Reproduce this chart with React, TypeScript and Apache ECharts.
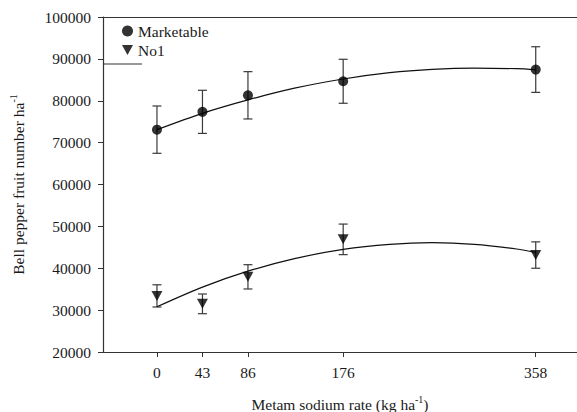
import React, { useEffect, useRef } from "react";
import * as echarts from "echarts";

const rates = [0, 43, 86, 176, 358];
const marketable = [73100, 77350, 81300, 84650, 87450];
const marketableErr = [5650, 5150, 5650, 5250, 5450];
const no1 = [33400, 31500, 37950, 46900, 43150];
const no1Err = [2650, 2350, 2900, 3650, 3150];

const fitRates = [0, 43, 86, 130, 176, 220, 260, 300, 340, 358];
const marketableFit = [73100, 77000, 80200, 83000, 85200, 86700, 87500, 87800, 87650, 87400];
const no1Fit = [30800, 35500, 39300, 42300, 44500, 45700, 46100, 45700, 44600, 43800];

const xTicks = [0, 43, 86, 176, 358];

const FONT = "Liberation Serif";
const TRI = "path://M0,0 L10,0 L5,9 Z";

function errData(ys: number[], es: number[]) {
  return rates.map((x, i) => [x, ys[i], es[i]]);
}

function renderErr(params: any, api: any) {
  const x = api.value(0);
  const y = api.value(1);
  const e = api.value(2);
  const top = api.coord([x, y + e]);
  const bot = api.coord([x, y - e]);
  const hw = 4.5;
  const style = { stroke: "#3a3a3a", lineWidth: 1.2 };
  return {
    type: "group",
    children: [
      { type: "line", shape: { x1: top[0], y1: top[1], x2: bot[0], y2: bot[1] }, style },
      { type: "line", shape: { x1: top[0] - hw, y1: top[1], x2: top[0] + hw, y2: top[1] }, style },
      { type: "line", shape: { x1: bot[0] - hw, y1: bot[1], x2: bot[0] + hw, y2: bot[1] }, style },
    ],
  };
}

export default function App() {
  const ref = useRef<HTMLDivElement>(null);
  useEffect(() => {
    if (!ref.current) return;
    const chart = echarts.init(ref.current, null, { renderer: "svg" });
    const axisLine = { show: true, onZero: false, lineStyle: { color: "#333", width: 1.2 } };
    const label = { color: "#1a1a1a", fontFamily: FONT, fontSize: 15.5, formatter: (v: number) => String(v) };
    const rich = {
      a: { fontFamily: FONT, fontSize: 15.5, color: "#1a1a1a", lineHeight: 18, verticalAlign: "bottom" },
      s: { fontFamily: FONT, fontSize: 10, color: "#1a1a1a", lineHeight: 18, verticalAlign: "top", padding: [0, 0, 6, 0] },
    };
    chart.setOption({
      animation: false,
      backgroundColor: "#fff",
      textStyle: { fontFamily: FONT },
      grid: { left: 103, top: 17, right: 0, bottom: 60, containLabel: false, outerBoundsMode: "none" },
      legend: {
        orient: "vertical",
        left: 117,
        top: 18,
        itemWidth: 11,
        itemHeight: 11,
        itemGap: 3,
        textStyle: { fontFamily: FONT, fontSize: 15.5, color: "#1a1a1a" },
        data: [
          { name: "Marketable", icon: "circle" },
          { name: "No1", icon: TRI },
        ],
      },
      xAxis: [
        {
          type: "value",
          min: -51,
          max: 397,
          axisLine,
          splitLine: { show: false },
          axisTick: { show: true, length: 5, customValues: xTicks, lineStyle: { color: "#333" } },
          axisLabel: { ...label, margin: 12, customValues: xTicks },
          name: "{a|Metam sodium rate (kg ha}{s|-1}{a|)}",
          nameLocation: "middle",
          nameGap: 42,
          nameTextStyle: { rich },
        },
        {
          type: "value",
          position: "top",
          min: -51,
          max: 397,
          axisLine,
          axisTick: { show: false },
          axisLabel: { show: false },
          splitLine: { show: false },
        },
      ],
      yAxis: {
        type: "value",
        min: 20000,
        max: 100000,
        interval: 10000,
        axisLine,
        splitLine: { show: false },
        axisTick: { show: true, length: 5, lineStyle: { color: "#333" } },
        axisLabel: { ...label, margin: 12 },
        name: "{a|Bell pepper fruit number ha}{s|-1}",
        nameLocation: "middle",
        nameGap: 77,
        nameTextStyle: { rich },
      },
      graphic: [
        {
          type: "line",
          shape: { x1: 103, y1: 64, x2: 142, y2: 64 },
          style: { stroke: "#333", lineWidth: 1.2 },
          z: 10,
        },
      ],
      series: [
        {
          type: "custom",
          name: "mErr",
          renderItem: renderErr,
          data: errData(marketable, marketableErr),
          encode: { x: 0, y: 1 },
          z: 2,
          silent: true,
        },
        {
          type: "custom",
          name: "nErr",
          renderItem: renderErr,
          data: errData(no1, no1Err),
          encode: { x: 0, y: 1 },
          z: 2,
          silent: true,
        },
        {
          type: "line",
          name: "mFit",
          data: fitRates.map((x, i) => [x, marketableFit[i]]),
          smooth: 0.3,
          showSymbol: false,
          symbol: "none",
          lineStyle: { color: "#111", width: 1.2 },
          z: 3,
        },
        {
          type: "line",
          name: "nFit",
          data: fitRates.map((x, i) => [x, no1Fit[i]]),
          smooth: 0.3,
          showSymbol: false,
          symbol: "none",
          lineStyle: { color: "#111", width: 1.2 },
          z: 3,
        },
        {
          type: "scatter",
          name: "Marketable",
          data: rates.map((x, i) => [x, marketable[i]]),
          symbol: "circle",
          symbolSize: 10,
          itemStyle: { color: "#000" },
          z: 5,
        },
        {
          type: "scatter",
          name: "No1",
          data: rates.map((x, i) => [x, no1[i]]),
          symbol: TRI,
          symbolSize: [11, 10],
          itemStyle: { color: "#000" },
          z: 5,
        },
      ],
    });
    return () => chart.dispose();
  }, []);
  return <div ref={ref} style={{ width: 577, height: 412, position: "absolute", left: 0, top: 0 }} />;
}
